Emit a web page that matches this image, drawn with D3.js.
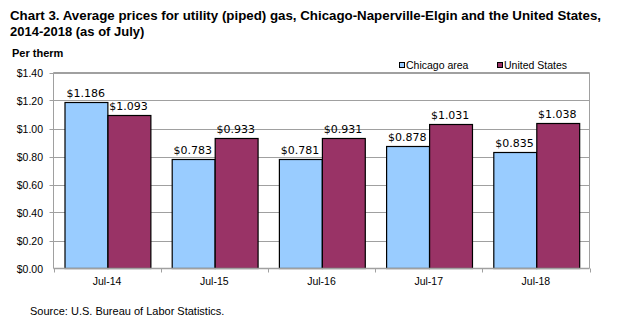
<!DOCTYPE html>
<html>
<head>
<meta charset="utf-8">
<script src="https://d3js.org/d3.v7.min.js"></script>
<style>
  body { margin: 0; background: #fff; }
  svg text { font-family: "Liberation Sans", Arial, sans-serif; fill: #000; }
  .title { font-size: 13px; font-weight: bold; }
  .unit { font-size: 11px; font-weight: bold; }
  .tick-label { font-size: 10.5px; }
  .val { font-family: "DejaVu Sans", Verdana, sans-serif !important; font-size: 11px; }
</style>
</head>
<body>
<script>
// July prices per therm
var periods = ["Jul-14", "Jul-15", "Jul-16", "Jul-17", "Jul-18"];
var chicago = [1.186, 0.783, 0.781, 0.878, 0.835];
var usa = [1.093, 0.933, 0.931, 1.031, 1.038];
var seriesNames = ["Chicago area", "United States"];
var seriesColors = ["#99ccff", "#993366"];
var yTicks = [0, 0.2, 0.4, 0.6, 0.8, 1.0, 1.2, 1.4];

var W = 633, H = 330;
var plot = {left: 53.5, right: 589.5, top: 72.5, bottom: 268.5};

var svg = d3.select("body").append("svg")
    .attr("width", W)
    .attr("height", H);

var x0 = d3.scaleBand()
    .domain(periods)
    .range([plot.left, plot.right])
    .paddingInner(0)
    .paddingOuter(0);

var x1 = d3.scaleBand()
    .domain([0, 1])
    .range([x0.bandwidth() * 0.1, x0.bandwidth() * 0.9]);

var y = d3.scaleLinear()
    .domain([0, 1.4])
    .range([plot.bottom, plot.top]);

// title
var t1 = svg.append("text").attr("class", "title").attr("x", 10).attr("y", 20)
    .text("Chart 3. Average prices for utility (piped) gas, Chicago-Naperville-Elgin and the United States,");
t1.attr("textLength", 591).attr("lengthAdjust", "spacingAndGlyphs");
svg.append("text").attr("class", "title").attr("x", 10).attr("y", 36)
    .text("2014-2018  (as of July)");

svg.append("text").attr("class", "unit").attr("x", 12).attr("y", 57).text("Per therm");

// gridlines
svg.append("g").selectAll("line")
    .data(yTicks.slice(1))
  .enter().append("line")
    .attr("x1", plot.left - 4).attr("x2", plot.right)
    .attr("y1", function(d) { return Math.round(y(d)) + 0.5; })
    .attr("y2", function(d) { return Math.round(y(d)) + 0.5; })
    .attr("stroke", "#a0a0a0");

// y tick labels
svg.append("g").selectAll("text")
    .data(yTicks)
  .enter().append("text")
    .attr("class", "tick-label")
    .attr("x", 43)
    .attr("y", function(d) { return y(d) + 4; })
    .attr("text-anchor", "end")
    .text(function(d) { return "$" + d.toFixed(2); });

// plot frame
svg.append("path")
    .attr("d", "M" + plot.left + "," + plot.bottom + "V" + plot.top + "H" + plot.right + "V" + plot.bottom)
    .attr("fill", "none")
    .attr("stroke", "#a0a0a0");

// bars
var groups = svg.append("g").selectAll("g")
    .data(periods)
  .enter().append("g")
    .attr("transform", function(d) { return "translate(" + x0(d) + ",0)"; });

groups.each(function(p, i) {
  var vals = [chicago[i], usa[i]];
  var g = d3.select(this);
  g.selectAll("rect")
      .data(vals)
    .enter().append("rect")
      .attr("x", function(d, j) { return Math.round(x1(j)) + 0.5; })
      .attr("y", function(d) { return Math.round(y(d)) + 0.5; })
      .attr("width", x1.bandwidth())
      .attr("height", function(d) { return plot.bottom - Math.round(y(d)) - 0.5; })
      .attr("fill", function(d, j) { return seriesColors[j]; })
      .attr("stroke", "#000")
      .attr("stroke-width", 1.2);
  g.selectAll("text.val")
      .data(vals)
    .enter().append("text")
      .attr("class", "val")
      .attr("x", function(d, j) { return x1(j) + x1.bandwidth() / 2; })
      .attr("y", function(d) { return y(d) - 5; })
      .attr("text-anchor", "middle")
      .text(function(d) { return "$" + d.toFixed(3); });
});

// x axis baseline and ticks
svg.append("line")
    .attr("x1", plot.left).attr("x2", plot.right)
    .attr("y1", plot.bottom).attr("y2", plot.bottom)
    .attr("stroke", "#a0a0a0").attr("stroke-width", 1.5);

var edges = periods.map(function(d) { return x0(d); }).concat([plot.right]);
svg.append("g").selectAll("line")
    .data(edges)
  .enter().append("line")
    .attr("x1", function(d) { return Math.round(d) + 0.5; })
    .attr("x2", function(d) { return Math.round(d) + 0.5; })
    .attr("y1", plot.bottom).attr("y2", plot.bottom + 4)
    .attr("stroke", "#a0a0a0");

svg.append("g").selectAll("text")
    .data(periods)
  .enter().append("text")
    .attr("class", "tick-label")
    .attr("x", function(d) { return x0(d) + x0.bandwidth() / 2; })
    .attr("y", 285)
    .attr("text-anchor", "middle")
    .text(function(d) { return d; });

// legend
var legendX = [399, 497];
var leg = svg.append("g").selectAll("g")
    .data(seriesNames)
  .enter().append("g")
    .attr("transform", function(d, i) { return "translate(" + legendX[i] + ",0)"; });
leg.append("rect")
    .attr("x", 0.5).attr("y", 62.5)
    .attr("width", 5).attr("height", 5)
    .attr("fill", function(d, i) { return seriesColors[i]; })
    .attr("stroke", "#000");
leg.append("text")
    .attr("class", "tick-label")
    .attr("x", 7).attr("y", 68.5)
    .text(function(d) { return d; });

svg.append("text").attr("class", "tick-label").attr("x", 30).attr("y", 315)
    .style("font-size", "11px")
    .text("Source: U.S. Bureau of Labor Statistics.");
</script>
</body>
</html>
